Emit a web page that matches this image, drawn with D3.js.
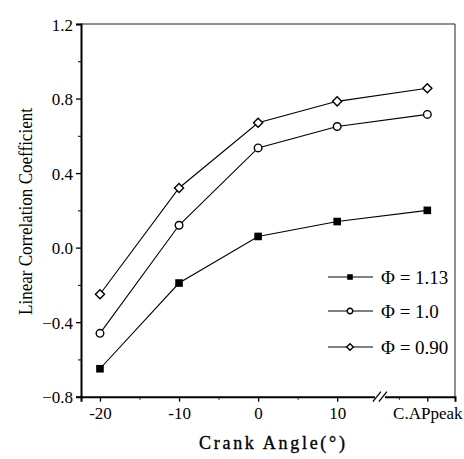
<!DOCTYPE html>
<html>
<head>
<meta charset="utf-8">
<script src="https://cdn.jsdelivr.net/npm/d3@7"></script>
<style>
  body { margin: 0; background: #fff; }
  svg text { font-family: "Liberation Serif", "DejaVu Serif", serif; fill: #000; }
</style>
</head>
<body>
<div id="chart"></div>
<script>
// crank angle categories (C.APpeak sits after the axis break)
var categories = ["-20", "-10", "0", "10", "C.APpeak"];
var angles = [-20, -10, 0, 10, 21.4];

var seriesNames = ["\u03A6 = 1.13", "\u03A6 = 1.0", "\u03A6 = 0.90"];
var phi113 = [-0.65, -0.19, 0.06, 0.14, 0.20];
var phi100 = [-0.46, 0.12, 0.535, 0.65, 0.715];
var phi090 = [-0.25, 0.32, 0.67, 0.785, 0.855];

var yTicks = [-0.8, -0.4, 0.0, 0.4, 0.8, 1.2];
var yMinor = [-0.6, -0.2, 0.2, 0.6, 1.0];
var xMinor = [-15, -5, 5, 17.8];

var margin = {top: 24, right: 9, bottom: 62, left: 81},
    width = 464 - margin.left - margin.right,
    height = 459 - margin.top - margin.bottom - 0.3;

var x = d3.scaleLinear().domain([-22.4, 24.9]).range([0, width]);
var y = d3.scaleLinear().domain([-0.8, 1.2]).range([height, 0]);

var svg = d3.select("#chart")
  .append("svg")
  .attr("width", 464)
  .attr("height", 459)
  .append("g")
  .attr("transform", "translate(" + margin.left + "," + margin.top + ")");

// top and right frame (thin)
svg.append("line").attr("x1", 0).attr("x2", width).attr("y1", 0).attr("y2", 0)
  .attr("stroke", "#222").attr("stroke-width", 1);
svg.append("line").attr("x1", width).attr("x2", width).attr("y1", 0).attr("y2", height)
  .attr("stroke", "#222").attr("stroke-width", 1);

// y axis
var yAxis = svg.append("g")
  .call(d3.axisLeft(y).tickValues(yTicks).tickSize(5).tickPadding(3)
    .tickFormat(d3.format(".1f")));
yAxis.select(".domain").attr("stroke-width", 2);
yAxis.selectAll(".tick line").attr("stroke-width", 1.3);
yAxis.selectAll("text").attr("font-size", 17).attr("dy", "0.36em");
svg.append("g")
  .call(d3.axisLeft(y).tickValues(yMinor).tickSize(3).tickFormat(""))
  .select(".domain").remove();

// x axis
var xAxis = svg.append("g")
  .attr("transform", "translate(0," + height + ")")
  .call(d3.axisBottom(x).tickValues(angles).tickSize(5).tickPadding(5)
    .tickFormat(function(d, i) { return categories[i]; }));
xAxis.select(".domain").attr("stroke-width", 2);
xAxis.selectAll(".tick line").attr("stroke-width", 1.3);
xAxis.selectAll("text").attr("font-size", 17);
svg.append("g")
  .attr("transform", "translate(0," + height + ")")
  .call(d3.axisBottom(x).tickValues(xMinor).tickSize(3).tickFormat(""))
  .select(".domain").remove();

// axis break
var bx = x(15.4);
svg.append("rect").attr("x", bx - 5).attr("y", height - 3).attr("width", 10).attr("height", 6)
  .attr("fill", "#fff");
[-3, 3].forEach(function(o) {
  svg.append("line")
    .attr("x1", bx + o - 4).attr("y1", height + 5)
    .attr("x2", bx + o + 4).attr("y2", height - 5)
    .attr("stroke", "#000").attr("stroke-width", 1.3);
});

// axis titles
svg.append("text")
  .attr("x", 272 - margin.left)
  .attr("y", 449 - margin.top)
  .attr("text-anchor", "middle")
  .attr("font-size", 18)
  .attr("stroke", "#000")
  .attr("stroke-width", 0.35)
  .attr("textLength", 146)
  .attr("lengthAdjust", "spacing")
  .text("Crank Angle(\u00B0)");

svg.append("text")
  .attr("transform", "translate(" + (32 - margin.left) + "," + (211.5 - margin.top) + ") rotate(-90)")
  .attr("text-anchor", "middle")
  .attr("font-size", 19)
  .attr("textLength", 207)
  .attr("lengthAdjust", "spacingAndGlyphs")
  .text("Linear Correlation Coefficient");

// series
var series = [
  {name: seriesNames[0], values: phi113, marker: "square"},
  {name: seriesNames[1], values: phi100, marker: "circle"},
  {name: seriesNames[2], values: phi090, marker: "diamond"}
];

var line = d3.line()
  .x(function(d, i) { return x(angles[i]); })
  .y(function(d) { return y(d); });

function drawMarker(g, type, s) {
  if (type == "square") {
    g.append("rect").attr("x", -s).attr("y", -s).attr("width", 2 * s).attr("height", 2 * s)
      .attr("fill", "#000");
  } else if (type == "circle") {
    g.append("circle").attr("r", s).attr("fill", "#fff")
      .attr("stroke", "#000").attr("stroke-width", 1.4);
  } else {
    var d = s * 1.2;
    g.append("path").attr("d", "M0," + (-d) + "L" + d + ",0L0," + d + "L" + (-d) + ",0Z")
      .attr("fill", "#fff").attr("stroke", "#000").attr("stroke-width", 1.4);
  }
}

series.forEach(function(s) {
  svg.append("path")
    .datum(s.values)
    .attr("fill", "none")
    .attr("stroke", "#000")
    .attr("stroke-width", 1.1)
    .attr("d", line);

  svg.selectAll(".pt-" + s.marker)
    .data(s.values)
    .enter()
    .append("g")
    .attr("class", "pt-" + s.marker)
    .attr("transform", function(d, i) { return "translate(" + x(angles[i]) + "," + y(d) + ")"; })
    .each(function() { drawMarker(d3.select(this), s.marker, 3.8); });
});

// legend
var legend = svg.selectAll(".legend")
  .data(series)
  .enter()
  .append("g")
  .attr("class", "legend")
  .attr("transform", function(d, i) {
    return "translate(" + (350 - margin.left) + "," + ([277, 311, 347][i] - margin.top) + ")";
  });

legend.append("line")
  .attr("x1", -22).attr("x2", 23)
  .attr("stroke", "#000").attr("stroke-width", 1.1);

legend.each(function(d) { drawMarker(d3.select(this), d.marker, 2.8); });

legend.append("text")
  .attr("x", 31)
  .attr("y", 7)
  .attr("font-size", 19)
  .text(function(d) { return d.name; });
</script>
</body>
</html>
